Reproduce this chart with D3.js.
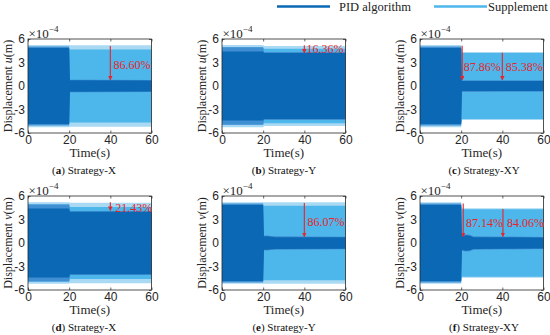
<!DOCTYPE html>
<html lang="en">
<head>
<meta charset="utf-8">
<title>Displacement under PID and supplement control</title>
<script src="https://cdn.jsdelivr.net/npm/d3@7/dist/d3.min.js"></script>
<style>
  body { margin: 0; background: #fff; }
  svg { display: block; font-family: "Liberation Serif", "Times New Roman", serif; }
  .axis text { font-size: 12px; fill: #262626; }
  .axis line { stroke: #262626; stroke-width: 0.7; }
  .axis path { display: none; }
</style>
</head>
<body>
<svg id="chart" width="550" height="335"></svg>
<script>
// ---- data ----
const captionLetters = ["a", "b", "c", "d", "e", "f"];
const captionNames = ["Strategy-X", "Strategy-Y", "Strategy-XY", "Strategy-X", "Strategy-Y", "Strategy-XY"];
const axisVars = ["u", "u", "u", "v", "v", "v"];

const xTicks = [0, 20, 40, 60];
const yTicks = [-6, -3, 0, 3, 6];

// envelope knots (s) shared by every panel
const knots = [0, 20, 20.4, 22, 24, 26, 60];

// amplitude envelopes (x1e-4 m) per panel at the knots
const suppPeak = [
  [5.25, 5.25, 5.2, 5.2, 5.2, 5.2, 5.2],
  [5.25, 5.25, 5.1, 5.1, 5.1, 5.1, 5.1],
  [5.25, 5.25, 4.35, 4.35, 4.35, 4.35, 4.35],
  [5.2, 5.2, 5.15, 5.15, 5.15, 5.15, 5.15],
  [5.2, 5.2, 5.2, 5.2, 5.2, 5.2, 5.2],
  [5.2, 5.2, 4.45, 4.45, 4.45, 4.45, 4.45]
];
const suppAmp = [
  [4.8, 4.8, 4.65, 4.65, 4.65, 4.65, 4.65],
  [4.9, 4.9, 4.75, 4.75, 4.75, 4.75, 4.75],
  [4.8, 4.8, 4.2, 4.2, 4.2, 4.2, 4.2],
  [4.9, 4.9, 4.6, 4.6, 4.6, 4.6, 4.6],
  [4.8, 4.8, 4.75, 4.75, 4.75, 4.75, 4.75],
  [4.8, 4.8, 4.3, 4.3, 4.3, 4.3, 4.3]
];
const pidPeak = [
  [5.05, 5.05, 0.8, 0.8, 0.8, 0.8, 0.78],
  [4.95, 4.95, 4.35, 4.35, 4.35, 4.35, 4.35],
  [5.05, 5.05, 0.75, 0.75, 0.75, 0.75, 0.72],
  [4.9, 4.9, 4.1, 4.1, 4.1, 4.1, 4.1],
  [5.05, 5.05, 0.95, 0.95, 0.9, 0.85, 0.8],
  [5.05, 5.05, 1.0, 1.1, 1.05, 0.85, 0.78]
];
const pidAmp = [
  [4.85, 4.85, 0.72, 0.72, 0.72, 0.72, 0.7],
  [4.4, 4.4, 4.2, 4.2, 4.2, 4.2, 4.2],
  [4.85, 4.85, 0.65, 0.65, 0.65, 0.65, 0.65],
  [4.4, 4.4, 4.0, 4.0, 4.0, 4.0, 4.0],
  [4.85, 4.85, 0.85, 0.85, 0.8, 0.75, 0.72],
  [4.85, 4.85, 0.85, 1.0, 0.95, 0.75, 0.7]
];

// reduction arrows
const arrowPanel = [0, 1, 2, 2, 3, 4, 5, 5];
const arrowT = [40, 40, 20.5, 40, 40, 40, 21, 40.3];
const arrowFrom = [5.1, 5.2, 5.15, 4.25, 5.2, 5.1, 5.05, 4.35];
const arrowTo = [0.78, 4.2, 0.76, 0.76, 4.15, 0.8, 0.82, 0.82];
const arrowText = ["86.60%", "16.36%", "87.86%", "85.38%", "21.43%", "86.07%", "87.14%", "84.06%"];
const textT = [41.5, 41, 21.2, 41.6, 42.4, 41.5, 22.3, 42.3];
const textV = [2.7, 4.75, 2.5, 2.5, 4.45, 2.7, 2.6, 2.6];

const seriesNames = ["PID algorithm", "Supplement"];

// ---- layout ----
const colLeft = [28, 222, 420];
const rowTop = [39, 196];
const pw = 123.5, ph = 94;
const captionX = [84, 284, 484];
const pidColor = "#0b68b5", pidFringe = "#3f8fd2";
const suppColor = "#4db6ea", suppFringe = "#a9d9f3";
const red = "#e5262c";

const svg = d3.select("#chart");
const defs = svg.append("defs");
defs.append("marker")
  .attr("id", "head")
  .attr("viewBox", "0 0 10 10")
  .attr("refX", 9).attr("refY", 5)
  .attr("markerWidth", 4.5).attr("markerHeight", 4.5)
  .attr("markerUnits", "userSpaceOnUse")
  .attr("orient", "auto")
  .append("path").attr("d", "M0,0L10,5L0,10Z").attr("fill", red);

const panels = [];

captionLetters.forEach((letter, i) => {
  const left = colLeft[i % 3], top = rowTop[Math.floor(i / 3)];
  const x = d3.scaleLinear().domain([0, 60]).range([left, left + pw]);
  const y = d3.scaleLinear().domain([-6, 6]).range([top + ph, top]);
  panels.push({ x, y });

  const g = svg.append("g");

  defs.append("clipPath").attr("id", "clip" + i)
    .append("rect").attr("x", left).attr("y", top).attr("width", pw).attr("height", ph);

  // inward ticks on all four sides
  g.append("g").attr("class", "axis").attr("transform", `translate(0,${top + ph})`)
    .call(d3.axisBottom(x).tickValues(xTicks).tickSize(-2.5).tickPadding(2));
  g.append("g").attr("class", "axis").attr("transform", `translate(0,${top})`)
    .call(d3.axisTop(x).tickValues(xTicks).tickSize(-2.5).tickFormat(""));
  g.append("g").attr("class", "axis").attr("transform", `translate(${left},0)`)
    .call(d3.axisLeft(y).tickValues(yTicks).tickSize(-2.5).tickPadding(3).tickFormat(d => String(d)));
  g.append("g").attr("class", "axis").attr("transform", `translate(${left + pw},0)`)
    .call(d3.axisRight(y).tickValues(yTicks).tickSize(-2.5).tickFormat(""));

  const band = amps => d3.area()
    .x((d, k) => x(knots[k]))
    .y0((d, k) => y(-amps[k]))
    .y1((d, k) => y(amps[k]))(knots);

  const data = g.append("g").attr("clip-path", `url(#clip${i})`);
  data.append("path").attr("d", band(suppPeak[i])).attr("fill", suppFringe);
  data.append("path").attr("d", band(suppAmp[i])).attr("fill", suppColor);
  data.append("path").attr("d", band(pidPeak[i])).attr("fill", pidFringe);
  data.append("path").attr("d", band(pidAmp[i])).attr("fill", pidColor);

  // frame
  g.append("rect").attr("x", left).attr("y", top).attr("width", pw).attr("height", ph)
    .attr("fill", "none").attr("stroke", "#262626").attr("stroke-width", 0.8);

  // x10^-4 multiplier
  const mult = g.append("text").attr("x", left + 0.5).attr("y", top - 1.5)
    .attr("font-size", 13).attr("fill", "#262626");
  mult.append("tspan").text("\u00d710");
  mult.append("tspan").attr("font-size", 9).attr("dy", -5.5).text("\u22124");

  // axis titles
  g.append("text").attr("x", (x(0) + x(60)) / 2).attr("y", top + ph + 23.5)
    .attr("text-anchor", "middle").attr("font-size", 13).attr("fill", "#262626")
    .text("Time(s)");
  const yl = g.append("text")
    .attr("transform", `translate(${left - 16},${top + ph / 2}) rotate(-90)`)
    .attr("text-anchor", "middle").attr("font-size", 12).attr("fill", "#262626");
  yl.append("tspan").text("Displacement ");
  yl.append("tspan").attr("font-style", "italic").text(axisVars[i]);
  yl.append("tspan").text("(m)");

  // caption
  const cap = g.append("text").attr("x", captionX[i % 3]).attr("y", top + ph + 41)
    .attr("text-anchor", "middle").attr("font-size", 11).attr("fill", "#111");
  cap.append("tspan").text("(");
  cap.append("tspan").attr("font-weight", "bold").text(letter);
  cap.append("tspan").text(") " + captionNames[i]);
});

// arrows and reduction labels
arrowPanel.forEach((p, j) => {
  const { x, y } = panels[p];
  svg.append("line")
    .attr("x1", x(arrowT[j])).attr("x2", x(arrowT[j]))
    .attr("y1", y(arrowFrom[j])).attr("y2", y(arrowTo[j]))
    .attr("stroke", red).attr("stroke-width", 1.1)
    .attr("marker-end", "url(#head)");
  svg.append("text")
    .attr("x", x(textT[j])).attr("y", y(textV[j]))
    .attr("dy", "0.35em").attr("font-size", 12).attr("fill", red)
    .text(arrowText[j]);
});

// legend
const legendX = [277, 434];
const legendColors = [pidColor, suppColor];
seriesNames.forEach((name, k) => {
  svg.append("line")
    .attr("x1", legendX[k]).attr("x2", legendX[k] + 53)
    .attr("y1", 6.5).attr("y2", 6.5)
    .attr("stroke", legendColors[k]).attr("stroke-width", 2.5);
  svg.append("text")
    .attr("x", legendX[k] + (k === 0 ? 62 : 54)).attr("y", 10.5)
    .attr("font-size", 12.5).attr("fill", "#222")
    .text(name);
});
</script>
</body>
</html>
